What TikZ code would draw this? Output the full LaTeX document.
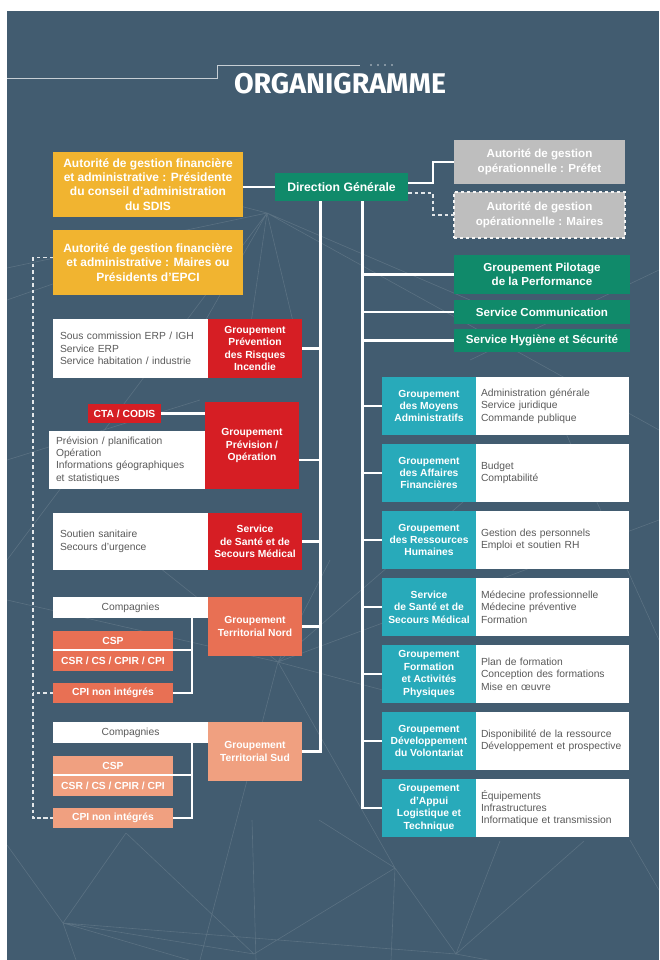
\documentclass[tikz,border=0pt]{standalone}
\usepackage{fontspec}
\setmainfont{Liberation Sans}
\newfontfamily\titlefont{Fira Sans}
\usetikzlibrary{calc}
\definecolor{bgc}{RGB}{66,92,112}
\definecolor{yellowc}{RGB}{241,180,48}
\definecolor{greenc}{RGB}{16,138,106}
\definecolor{grayc}{RGB}{190,190,190}
\definecolor{redc}{RGB}{214,30,36}
\definecolor{nordc}{RGB}{232,112,84}
\definecolor{sudc}{RGB}{240,160,128}
\definecolor{tealc}{RGB}{40,170,186}
\definecolor{listc}{RGB}{90,90,90}

\begin{document}
\begin{tikzpicture}[x=1pt, y=-1pt,
    box/.style={inner sep=0pt, outer sep=0pt, align=center, text=white, anchor=north west,
      font=\bfseries\fontsize{10.3}{12.4}\selectfont},
    lst/.style={fill=white, inner xsep=7pt, inner ysep=0pt, outer sep=0pt, anchor=north west,
      align=left, text=listc, font=\fontsize{10.3}{12.4}\selectfont,
      execute at begin node={\hyphenpenalty=10000\relax}},
    link/.style={draw=white, line width=2.6pt},
    dlink/.style={draw=white!85!bgc, line width=1.3pt, dash pattern=on 3.5pt off 3pt},
    deco/.style={draw=white, opacity=0.13, line width=0.6pt}]
  \useasboundingbox (0,0) rectangle (659,960);
  \fill[white] (0,0) rectangle (659,960);
  \fill[bgc] (7,11) rectangle (659,960);
  \begin{scope}
    \clip (7,11) rectangle (659,960);
    \draw[deco] (267,213) -- (7,268) (267,213) -- (7,560) (267,213) -- (200,330)
      (267,213) -- (250,330) (267,213) -- (295,330) (267,213) -- (470,300)
      (267,213) -- (659,430) (267,213) -- (120,175) (7,300) -- (150,250)
      (278,662) -- (7,600) (278,662) -- (150,560) (278,662) -- (330,560)
      (278,662) -- (500,470) (278,662) -- (659,520) (278,662) -- (420,700)
      (278,662) -- (395,868) (278,662) -- (200,960) (470,360) -- (659,270)
      (560,420) -- (659,640) (7,460) -- (200,400)
      (63,923) -- (7,845) (63,923) -- (126,833) (63,923) -- (76,960)
      (63,923) -- (254,954) (63,923) -- (456,954) (63,923) -- (189,960)
      (126,833) -- (254,954) (252,820) -- (256,960) (254,954) -- (395,868)
      (395,868) -- (456,954) (395,868) -- (391,960) (395,868) -- (319,820)
      (456,954) -- (500,841) (456,954) -- (584,841) (456,954) -- (659,992)
      (630,840) -- (659,890);
  \end{scope}
  \draw[white!70!bgc, line width=0.9pt] (7,78) -- (217,78) -- (217,65) -- (360,65);
  \foreach \x in {371,378,385,392} {
    \fill[white!70!bgc] (\x,65) circle (0.9);
  }
  \node[inner sep=0pt, text=white, font=\titlefont\bfseries\fontsize{28.5}{28.5}\selectfont] (title) at (340,84) {ORGANIGRAMME};

  \node[box, fill=greenc, minimum width=133, minimum height=28, font=\bfseries\fontsize{12.2}{14}\selectfont] (dg) at (275,173) {Direction Générale};
  \node[box, fill=yellowc, minimum width=190, minimum height=65, font=\bfseries\fontsize{12}{14.3}\selectfont] (fin1) at (53,152)
    {Autorité de gestion financière\\et administrative : Présidente\\du conseil d’administration\\du SDIS};
  \node[box, fill=yellowc, minimum width=190, minimum height=65, font=\bfseries\fontsize{12}{14.3}\selectfont] (fin2) at (53,230)
    {Autorité de gestion financière\\et administrative : Maires ou\\Présidents d’EPCI};
  \node[box, fill=grayc, minimum width=171, minimum height=44, font=\bfseries\fontsize{11.6}{14.5}\selectfont] (prefet) at (454,140)
    {Autorité de gestion\\opérationnelle : Préfet};
  \node[box, fill=grayc, draw=white!85!grayc, dashed, line width=1.2pt, minimum width=171, minimum height=46, font=\bfseries\fontsize{11.6}{14.5}\selectfont] (maires) at (454,192)
    {Autorité de gestion\\opérationnelle : Maires};
  \node[box, fill=greenc, minimum width=176, minimum height=39, font=\bfseries\fontsize{11.6}{14}\selectfont] (pil) at (454,255)
    {Groupement Pilotage\\de la Performance};
  \node[box, fill=greenc, minimum width=176, minimum height=24, font=\bfseries\fontsize{11.6}{14}\selectfont] (com) at (454,300) {Service Communication};
  \node[box, fill=greenc, minimum width=176, minimum height=23, font=\bfseries\fontsize{11.6}{14}\selectfont] (hyg) at (454,329) {Service Hygiène et Sécurité};

  \node[lst, text width=141, minimum height=59] (gpril) at (53,319)
    {Sous commission ERP / IGH\\Service ERP\\Service habitation / industrie};
  \node[box, fill=redc, minimum width=94, minimum height=59] (gpri) at (208,319)
    {Groupement\\Prévention\\des Risques\\Incendie};
  \node[box, fill=redc, minimum width=73, minimum height=19] (cta) at (88,404) {CTA / CODIS};
  \node[box, fill=redc, minimum width=94, minimum height=87] (gpo) at (205,402)
    {Groupement\\Prévision /\\Opération};
  \node[lst, text width=142, minimum height=58] (gpol) at (49,431)
    {Prévision / planification\\Opération\\Informations géographiques\\et statistiques};
  \node[lst, text width=141, minimum height=57] (sssml) at (53,513)
    {Soutien sanitaire\\Secours d’urgence};
  \node[box, fill=redc, minimum width=94, minimum height=57] (sssm) at (208,513)
    {Service\\de Santé et de\\Secours Médical};

  \coordinate (trunkL) at ([xshift=-21pt]dg.south);
  \coordinate (trunkR) at ([xshift=21pt]dg.south);

  \foreach \n/\y/\col/\name in {N/597/nordc/Nord, S/722/sudc/Sud} {
    \node[lst, align=center, text width=141, minimum height=21] (comp\n) at (53,\y) {Compagnies};
    \node[box, fill=\col, minimum width=94, minimum height=59] (terr\n) at (208,\y)
      {Groupement\\Territorial \name};
    \node[box, fill=\col, minimum width=120, minimum height=19] (csp\n) at (53,\y+34) {CSP};
    \node[box, fill=\col, minimum width=120, minimum height=21] (csr\n) at (53,\y+53) {CSR / CS / CPIR / CPI};
    \node[box, fill=\col, minimum width=120, minimum height=20] (cpi\n) at (53,\y+86) {CPI non intégrés};
    \coordinate (bus\n) at (192,\y+21);
    \draw[link] (bus\n) |- (cpi\n.east);
    \draw[link, line width=2pt] (csp\n.south west) -- (csp\n.south -| bus\n);
    \draw[link] (terr\n.east) -- (terr\n.east -| trunkL);
    \draw[dlink] (cpi\n.west) -- ++(-20,0);
  }

  \foreach \i/\head/\items in {
    1/{Groupement\\des Moyens\\Administratifs}/{Administration générale\\Service juridique\\Commande publique},
    2/{Groupement\\des Affaires\\Financières}/{Budget\\Comptabilité},
    3/{Groupement\\des Ressources\\Humaines}/{Gestion des personnels\\Emploi et soutien RH},
    4/{Service\\de Santé et de\\Secours Médical}/{Médecine professionnelle\\Médecine préventive\\Formation},
    5/{Groupement\\Formation\\et Activités\\Physiques}/{Plan de formation\\Conception des formations\\Mise en œuvre},
    6/{Groupement\\Développement\\du Volontariat}/{Disponibilité de la ressource\\Développement et prospective},
    7/{Groupement\\d’Appui\\Logistique et\\Technique}/{Équipements\\Infrastructures\\Informatique et transmission}} {
    \node[box, fill=tealc, minimum width=94, minimum height=58] (g\i) at (382,310+67*\i) {\head};
    \node[lst, inner xsep=5pt, text width=143, minimum height=58] (l\i) at (476,310+67*\i) {\items};
    \draw[link] (g\i.west) -- (g\i.west -| trunkR);
  }

  \draw[link] (fin1.east |- dg.west) -- (dg.west);
  \draw[link] ([yshift=4pt]dg.east) -- ++(25,0) |- (prefet.west);
  \draw[dlink] ([yshift=-6pt]dg.east) -- ++(25,0) |- (maires.west);
  \draw[link] (trunkL) |- (terrS.east);
  \draw[link] (trunkR) |- (g7.west);
  \draw[link] (trunkR |- pil.west) -- (pil.west);
  \draw[link] (trunkR |- com.west) -- (com.west);
  \draw[link] (trunkR |- hyg.west) -- (hyg.west);
  \draw[link] (gpri.east) -- (gpri.east -| trunkL);
  \draw[link] (gpo.east |- gpol.east) -- (gpol.east -| trunkL);
  \draw[link] (sssm.east) -- (sssm.east -| trunkL);
  \draw[link] (cta.east) -- (cta.east -| gpo.west);
  \draw[dlink] ([yshift=5pt]fin2.west) -- ++(-20,0) |- (cpiS.west);
\end{tikzpicture}
\end{document}
